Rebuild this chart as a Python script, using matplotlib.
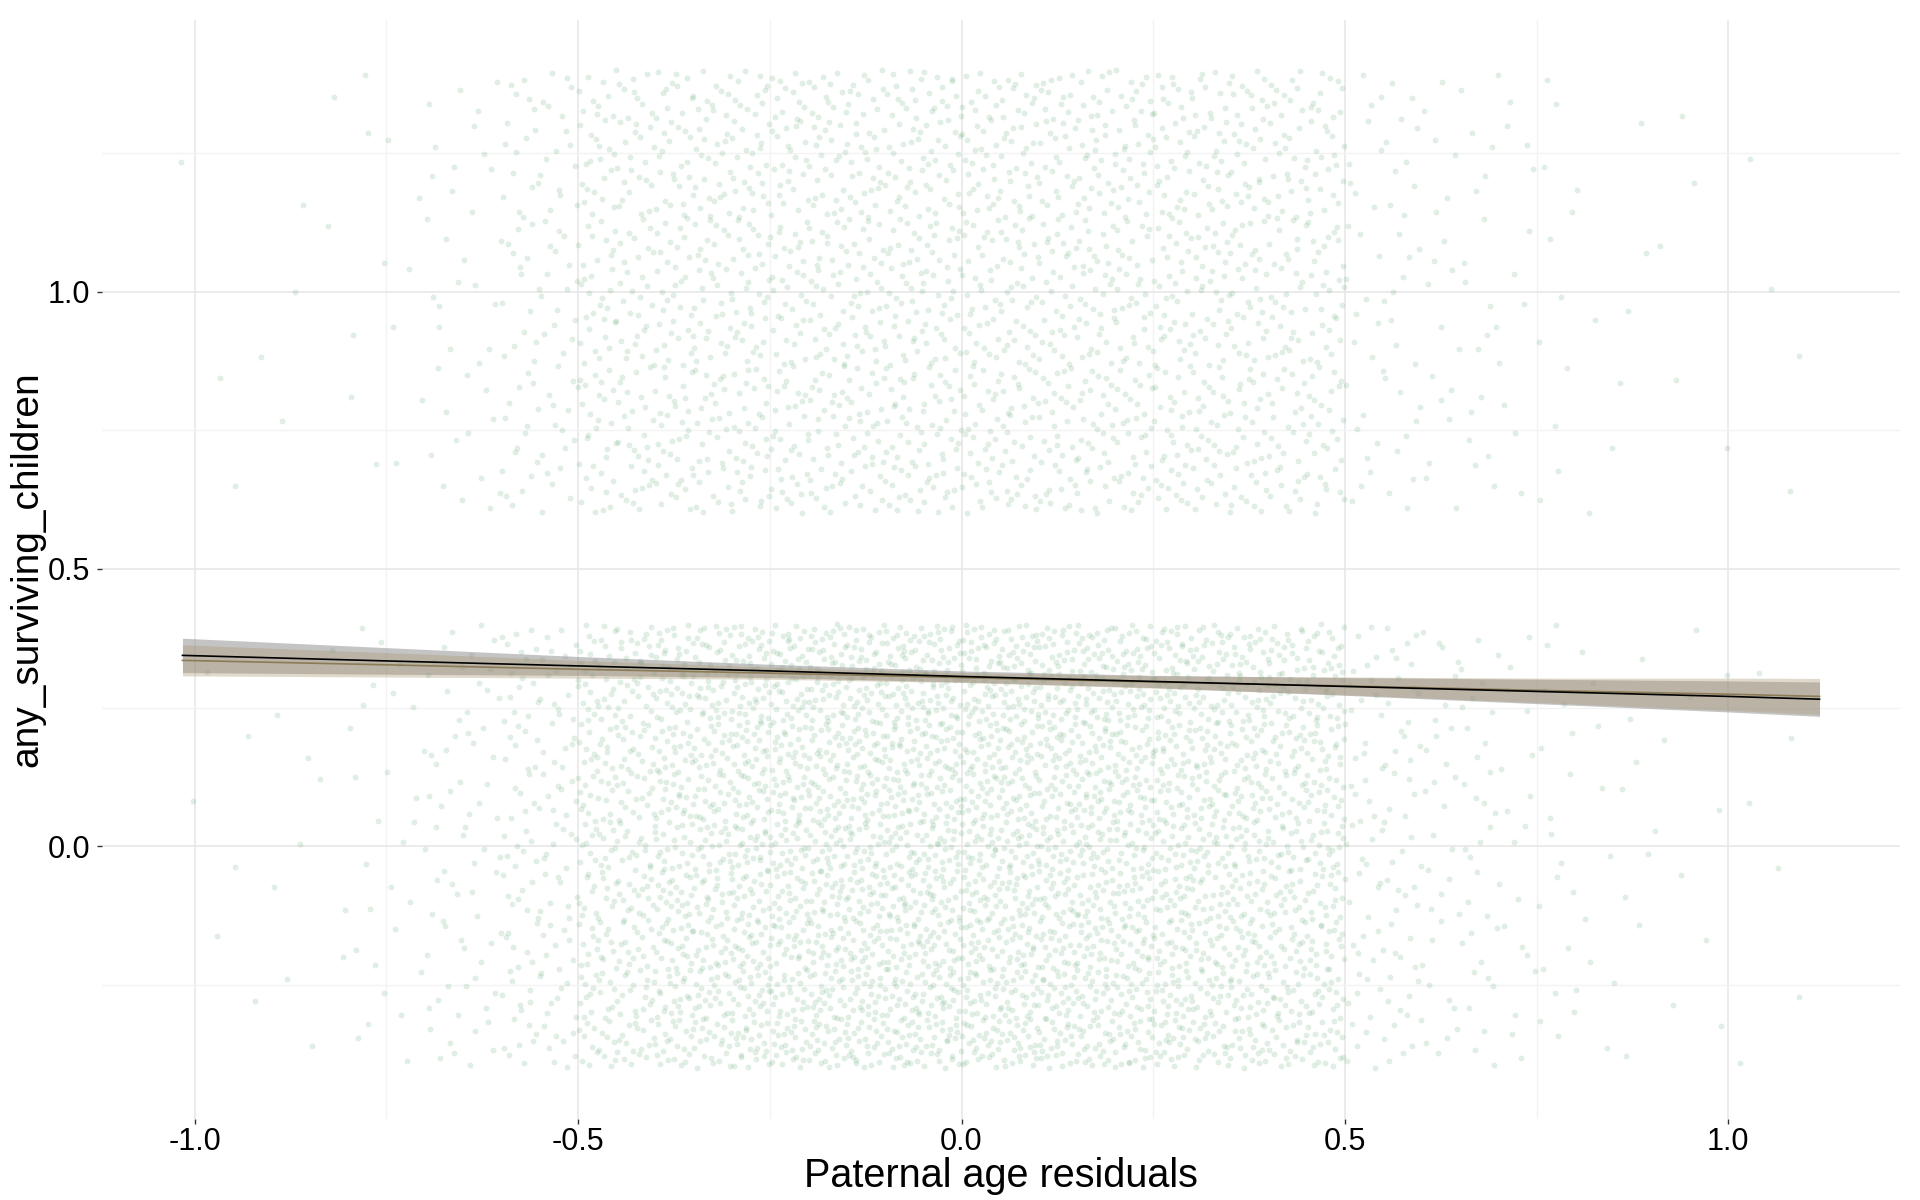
"""
Jittered binary outcome vs paternal age residuals, with two linear fits.

Output: out.png (1920x1200)
"""

import matplotlib

matplotlib.use("Agg")
import matplotlib.pyplot as plt
import numpy as np

plt.rcParams["font.family"] = ["Liberation Sans", "DejaVu Sans"]

# x-bin edges of the jittered point cloud and how many points each bin holds,
# read off the picture (outcome 0 band and outcome 1 band)
BIN_EDGES = [-1.02, -0.9, -0.8, -0.7, -0.6, -0.5, -0.4, -0.3, -0.2, -0.1, 0.0,
             0.1, 0.2, 0.3, 0.4, 0.5, 0.6, 0.7, 0.8, 0.9, 1.0, 1.12]
COUNTS_ZERO = [6, 10, 28, 70, 140, 300, 380, 430, 450, 460,
               455, 440, 415, 380, 340, 100, 65, 38, 18, 10, 6]
COUNTS_ONE = [4, 5, 12, 38, 95, 175, 195, 205, 210, 212,
              212, 205, 200, 198, 175, 55, 38, 22, 8, 5, 4]
OUTCOMES = [0, 1]
JITTER_HEIGHT = 0.4

# fitted lines and half-width of their confidence bands
FIT_X = [-1.016, -0.75, -0.5, -0.25, 0.0, 0.25, 0.5, 0.75, 1.0, 1.119]
FIT_A_Y = [0.344, 0.334, 0.325, 0.316, 0.306, 0.297, 0.288, 0.279, 0.270, 0.265]
FIT_A_HW = [0.031, 0.024, 0.017, 0.012, 0.010, 0.011, 0.016, 0.022, 0.028, 0.031]
FIT_B_Y = [0.335, 0.327, 0.319, 0.312, 0.304, 0.296, 0.289, 0.281, 0.274, 0.270]
FIT_B_HW = [0.028, 0.022, 0.016, 0.011, 0.009, 0.011, 0.016, 0.022, 0.029, 0.0325]

X_TICKS = [-1.0, -0.5, 0.0, 0.5, 1.0]
Y_TICKS = [0.0, 0.5, 1.0]


def _radical_inverse(k, base):
    out = np.zeros(len(k))
    f = 1.0 / base
    k = k.copy()
    while np.any(k > 0):
        out += f * (k % base)
        k //= base
        f /= base
    return out


def _fill_cells(edges, counts, center, start):
    # spread each bin's count evenly over its cell (leaped Halton sequence)
    leap = 409
    xs, ys = [], []
    n = start
    for lo, hi, c in zip(edges[:-1], edges[1:], counts):
        k = (np.arange(n, n + c) * leap).astype(np.int64)
        u = _radical_inverse(k, 2)
        v = _radical_inverse(k, 3)
        xs.append(lo + u * (hi - lo))
        ys.append(center - JITTER_HEIGHT + v * 2 * JITTER_HEIGHT)
        n += c
    return np.concatenate(xs), np.concatenate(ys), n


def main() -> None:
    fig = plt.figure(figsize=(19.2, 12), dpi=100)
    ax = fig.add_axes([0.0531, 0.0675, 0.9365, 0.9155])

    n = 1
    for outcome, counts in zip(OUTCOMES, [COUNTS_ZERO, COUNTS_ONE]):
        px, py, n = _fill_cells(BIN_EDGES, counts, outcome, n)
        ax.scatter(px, py, s=18, c="#2e8b46", alpha=0.14, linewidths=0, zorder=2)

    fx = np.array(FIT_X)
    ya, hwa = np.array(FIT_A_Y), np.array(FIT_A_HW)
    yb, hwb = np.array(FIT_B_Y), np.array(FIT_B_HW)
    ax.fill_between(fx, ya - hwa, ya + hwa, color="#8a8a8a", alpha=0.5,
                    linewidth=0, zorder=3)
    ax.fill_between(fx, yb - hwb, yb + hwb, color="#a8966e", alpha=0.35,
                    linewidth=0, zorder=3)
    ax.plot(fx, yb, color="#8c7b57", lw=1.2, zorder=4)
    ax.plot(fx, ya, color="black", lw=1.2, zorder=5)

    ax.set_xlim(-1.121, 1.224)
    ax.set_ylim(-0.492, 1.489)
    ax.set_xticks(X_TICKS)
    ax.set_xticklabels([f"{t:.1f}" for t in X_TICKS])
    ax.set_yticks(Y_TICKS)
    ax.set_yticklabels([f"{t:.1f}" for t in Y_TICKS])
    ax.set_xticks([-0.75, -0.25, 0.25, 0.75], minor=True)
    ax.set_yticks([-0.25, 0.25, 0.75, 1.25], minor=True)
    ax.tick_params(which="major", length=3.6, width=1, color="#333333", pad=5,
                   labelsize=22, labelcolor="black")
    ax.tick_params(axis="x", which="major", pad=2.5)
    ax.tick_params(which="minor", length=0)
    ax.grid(which="major", color="#e6e6e6", lw=1.1, zorder=0)
    ax.grid(which="minor", color="#f3f3f3", lw=1.0, zorder=0)
    ax.set_axisbelow(True)
    for s in ax.spines.values():
        s.set_visible(False)

    fig.text(1001 / 1920, 1 - 1176 / 1200, "Paternal age residuals",
             ha="center", va="center", fontsize=28.5)
    fig.text(27 / 1920, 1 - 569 / 1200, "any_surviving_children",
             ha="center", va="center", rotation=90, fontsize=28)

    fig.savefig("out.png", dpi=100)
    plt.close(fig)


if __name__ == "__main__":
    main()
